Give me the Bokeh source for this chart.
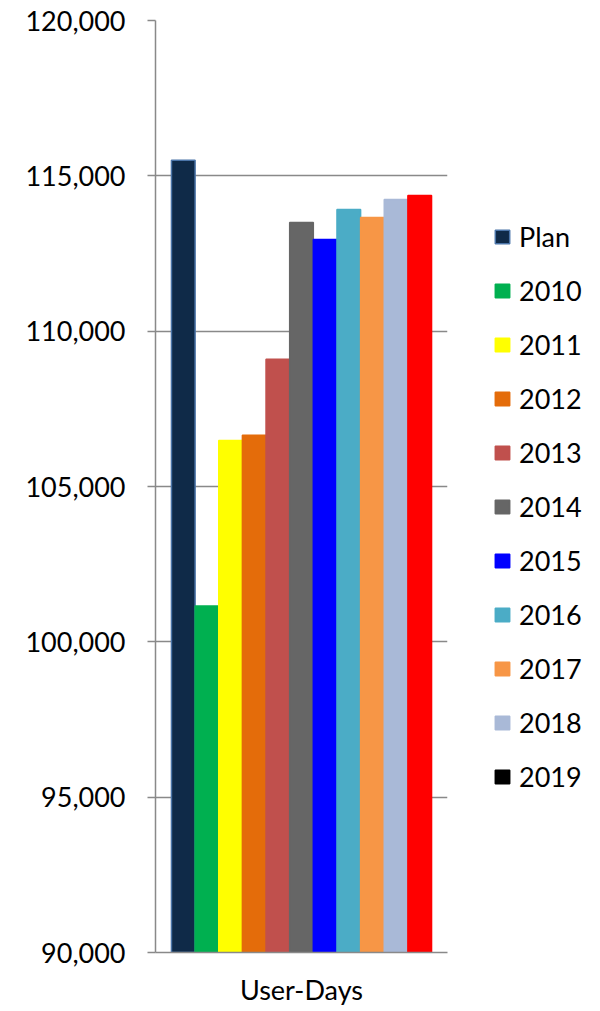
from bokeh.plotting import figure
from bokeh.models import (Range1d, FixedTicker, NumeralTickFormatter, ColumnDataSource,
                          Legend, LegendItem)
from bokeh.embed import file_html
from bokeh.resources import INLINE

# ---- data ----
series = ["Plan", "2010", "2011", "2012", "2013", "2014", "2015", "2016", "2017", "2018", "2019"]
values = [115500, 101150, 106480, 106650, 109100, 113500, 112950, 113920, 113660, 114240, 114370]
bar_colors = ["#0f2a48", "#00b050", "#ffff00", "#e46c0a", "#c0504d", "#666666",
              "#0000ff", "#4bacc6", "#f79646", "#a9b9d7", "#ff0000"]
legend_colors = ["#0f2a48", "#00b050", "#ffff00", "#e46c0a", "#c0504d", "#666666",
                 "#0000ff", "#4bacc6", "#f79646", "#a9b9d7", "#000000"]
bar_lines = ["#4a74a8"] + bar_colors[1:]
legend_lines = ["#4a74a8"] + legend_colors[1:]
y_ticks = [90000, 95000, 100000, 105000, 110000, 115000, 120000]
category = "User-Days"

FONT = "Lato"
GRID = "#898989"

n = len(series)
gap = 1.35  # gap width relative to a bar
w = 1.0 / (n + gap)
pad = gap * w / 2
xs = [pad + (i + 0.5) * w for i in range(n)]

p = figure(frame_width=292, frame_height=932, output_backend="svg", toolbar_location=None,
           x_range=Range1d(0, 1), y_range=Range1d(90000, 120000),
           min_border_left=155, min_border_top=20, min_border_right=150, min_border_bottom=0)
p.outline_line_color = None
p.background_fill_color = "white"

src = ColumnDataSource(dict(x=xs, top=values, fill=bar_colors, line=bar_lines,
                            lfill=legend_colors, lline=legend_lines, label=series))
p.vbar(x="x", width=w, bottom=90000, top="top", source=src,
       fill_color="fill", line_color="line", line_width=1.5)
leg_r = p.vbar(x="x", width=w, bottom=90000, top="top", source=src,
               fill_color="lfill", line_color="lline", line_width=1.5, visible=False)

# y axis
ya = p.yaxis[0]
ya.ticker = FixedTicker(ticks=y_ticks, minor_ticks=[])
ya.formatter = NumeralTickFormatter(format="0,0")
ya.axis_line_color = GRID
ya.axis_line_width = 1.5
ya.major_tick_line_color = GRID
ya.major_tick_line_width = 1.5
ya.major_tick_out = 8
ya.major_tick_in = 0
ya.minor_tick_line_color = None
ya.major_label_text_font = FONT
ya.major_label_text_font_size = "27px"
ya.major_label_text_color = "black"
ya.major_label_standoff = 22

p.ygrid.ticker = FixedTicker(ticks=y_ticks[1:])
p.ygrid.grid_line_color = GRID
p.ygrid.grid_line_width = 1.5
p.xgrid.grid_line_color = None

# x axis
xa = p.xaxis[0]
xa.ticker = FixedTicker(ticks=[], minor_ticks=[])
xa.axis_line_color = GRID
xa.axis_line_width = 1.5
xa.major_tick_line_color = None
xa.minor_tick_line_color = None
xa.major_label_standoff = 0
xa.axis_label = category
xa.axis_label_text_font = FONT
xa.axis_label_text_font_size = "27px"
xa.axis_label_text_font_style = "normal"
xa.axis_label_text_color = "black"
xa.axis_label_standoff = 20

items = [LegendItem(label=s, renderers=[leg_r], index=i) for i, s in enumerate(series)]
legend = Legend(items=items, location=(46, 159), orientation="vertical",
                label_text_font=FONT, label_text_font_size="27px", label_text_color="black",
                glyph_width=18, glyph_height=17, label_height=33, label_standoff=8,
                spacing=21, padding=0, margin=0, border_line_color=None,
                background_fill_alpha=0, click_policy="none")
p.add_layout(legend, "right")

open("out.html", "w").write(file_html(p, INLINE))
